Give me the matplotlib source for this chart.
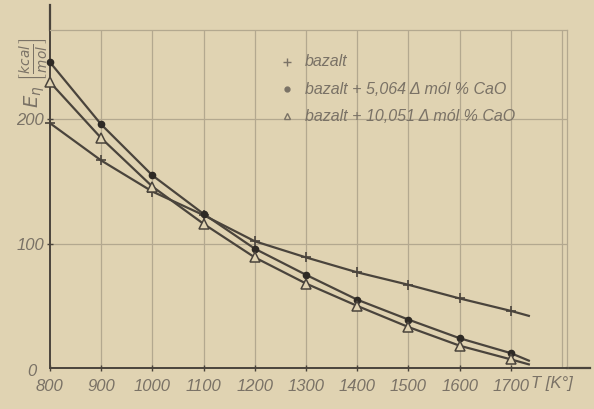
import matplotlib
matplotlib.use("Agg")
import matplotlib.pyplot as plt

# Data
T = [800, 900, 1000, 1100, 1200, 1300, 1400, 1500, 1600, 1700]
bazalt = [197, 167, 142, 123, 102, 89, 77, 67, 56, 46]
bazalt_5 = [246, 196, 155, 124, 96, 75, 55, 39, 24, 12]
bazalt_10 = [230, 185, 146, 116, 89, 68, 50, 33, 18, 7]
# line continuation past last measured point
T_end = 1735
bazalt_end = 42
bazalt_5_end = 6
bazalt_10_end = 3

xticks = [800, 900, 1000, 1100, 1200, 1300, 1400, 1500, 1600, 1700]
ytick_labels = ["100", "200"]
legend_labels = ["bazalt", "bazalt + 5,064 \u0394 mól % CaO", "bazalt + 10,051 \u0394 mól % CaO"]

bg = "#e0d3b2"
ink = "#4a443c"
txt = "#7a7266"
grid = "#b3a88f"

fig = plt.figure(figsize=(5.94, 4.09), dpi=100, facecolor=bg)
ax = fig.add_axes([0.084, 0.10, 0.871, 0.827], facecolor=bg)
ax.set_xlim(800, 1810)
ax.set_ylim(0, 272)

for x in xticks[1:] + [1800]:
    ax.axvline(x, color=grid, lw=0.9, zorder=1)
for y in [100, 200]:
    ax.axhline(y, color=grid, lw=0.9, zorder=1)

ax.spines["top"].set_color(grid)
ax.spines["right"].set_color(grid)
ax.spines["top"].set_linewidth(0.9)
ax.spines["right"].set_linewidth(0.9)
ax.spines["left"].set_color(ink)
ax.spines["bottom"].set_color(ink)
ax.spines["left"].set_linewidth(1.4)
ax.spines["bottom"].set_linewidth(1.4)
# axis extensions (arrows drawn beyond the frame)
ax.plot([800, 800], [272, 292], color=ink, lw=1.6, clip_on=False, zorder=2)
ax.plot([1810, 1855], [0, 0], color=ink, lw=1.6, clip_on=False, zorder=2)

lc = dict(color=ink, lw=1.6, zorder=3)
ax.plot(T + [T_end], bazalt + [bazalt_end], **lc)
ax.plot(T + [T_end], bazalt_5 + [bazalt_5_end], **lc)
ax.plot(T + [T_end], bazalt_10 + [bazalt_10_end], **lc)
ax.plot(T, bazalt, ls="none", marker="+", ms=7, mew=1.2, color=ink, zorder=4, clip_on=False)
ax.plot(T, bazalt_5, ls="none", marker="o", ms=4.5, color="#2e2a25", zorder=4, clip_on=False)
ax.plot(T, bazalt_10, ls="none", marker="^", ms=7, mfc=bg, mec=ink, mew=1.1, zorder=5, clip_on=False)

fp = dict(family="Liberation Sans", style="italic", color=txt)
ax.set_xticks(xticks)
ax.set_xticklabels([str(v) for v in xticks], fontsize=12, **fp)
ax.set_yticks([100, 200])
ax.set_yticklabels(ytick_labels, fontsize=12, **fp)
ax.tick_params(axis="both", length=4, color=ink, width=1, pad=2, direction="inout")
ax.tick_params(axis="x", pad=6)

ax.text(-0.043, -0.01, "0", transform=ax.transAxes, fontsize=12, ha="left", va="center", **fp)
ax.text(1740, -6, "T [K°]", fontsize=12, ha="left", va="top", **fp)
ax.text(-0.033, 0.875, r"$E_{\eta}\ \left[\frac{kcal}{mol}\right]$", transform=ax.transAxes,
        fontsize=14, rotation=90, ha="center", va="center", color=txt)

# legend as text
lx, ly0, dy = 0.458, 0.905, 0.08
markers = [dict(marker="+", ms=6, mew=1.0, color=txt),
           dict(marker="o", ms=3.5, color=txt),
           dict(marker="^", ms=5, mfc=bg, mec=txt, mew=1.0)]
for i, (lab, mk) in enumerate(zip(legend_labels, markers)):
    y = ly0 - i * dy
    ax.plot([lx], [y], transform=ax.transAxes, ls="none", zorder=5, **mk)
    ax.text(lx + 0.035, y, lab, transform=ax.transAxes, fontsize=11.5, va="center", ha="left", **fp)

fig.savefig("out.png", dpi=100, facecolor=bg)
